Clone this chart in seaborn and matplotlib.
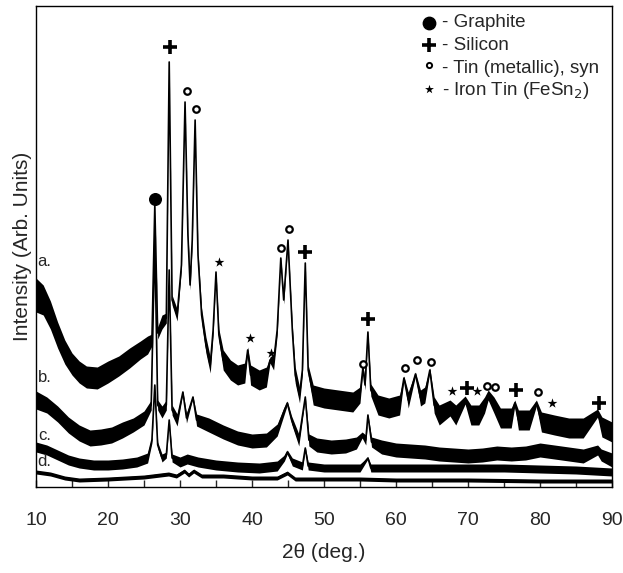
import numpy as np
import pandas as pd
import matplotlib
matplotlib.use("Agg")
import matplotlib.pyplot as plt
import seaborn as sns

sns.set_theme(style="white")
plt.rcParams['font.family'] = ['Liberation Sans', 'DejaVu Sans']

# --- pattern a. (2theta, intensity, noise half-band) ---
a_2t = [10.0, 11.0, 12.0, 13.0, 14.0, 15.0, 16.0, 17.0, 18.5, 20.0, 21.5, 23.0, 24.5, 25.5,
        26.1, 26.5, 26.9, 27.5, 28.1, 28.5, 28.9, 29.6, 30.2, 30.7, 31.1, 31.4, 31.7, 32.1,
        32.5, 33.0, 33.6, 34.2, 34.6, 35.0, 35.4, 36.0, 37.0, 38.0, 39.0, 39.4, 39.8, 41.0,
        42.0, 42.5, 43.0, 43.5, 44.0, 44.4, 45.0, 45.6, 46.0, 46.6, 47.0, 47.4, 47.8, 48.5,
        50.0, 52.0, 54.0, 55.0, 55.4, 55.7, 56.1, 56.5, 57.5, 59.0, 60.5, 61.1, 61.7, 62.7,
        63.4, 64.0, 64.7, 65.3, 66.0, 67.5, 68.3, 69.6, 70.4, 71.5, 72.3, 72.8, 73.6, 74.5,
        76.0, 76.5, 77.0, 78.5, 79.5, 80.2, 82.0, 84.0, 86.0, 88.0, 88.6, 90.0]
a_int = [192, 187, 172, 152, 135, 123, 115, 110, 109, 115, 121, 129, 137, 142,
         147, 282, 154, 165, 169, 425, 187, 172, 222, 385, 252, 202, 247, 367,
         232, 172, 142, 122, 157, 215, 152, 127, 117, 112, 114, 137, 112, 107,
         110, 127, 125, 157, 229, 187, 247, 157, 112, 92, 117, 224, 117, 92,
         89, 87, 85, 92, 119, 102, 155, 97, 82, 79, 82, 109, 87, 113,
         89, 92, 117, 82, 72, 79, 72, 87, 72, 72, 82, 92, 82, 69,
         69, 84, 67, 67, 84, 65, 62, 59, 59, 74, 60, 55]
a_noise = [17, 15, 14, 13, 12, 11, 11, 11, 11, 11, 10, 10, 9, 9,
           6, 1, 6, 7, 5, 1, 5, 6, 4, 1, 4, 5, 4, 1,
           4, 7, 8, 8, 5, 1, 6, 10, 10, 10, 10, 3, 10, 10,
           10, 3, 8, 5, 1, 4, 1, 5, 8, 8, 5, 1, 5, 10,
           10, 10, 10, 8, 3, 5, 1, 6, 10, 10, 10, 2, 8, 2,
           8, 8, 2, 8, 10, 8, 10, 4, 10, 10, 8, 5, 8, 10,
           10, 3, 10, 10, 3, 10, 10, 10, 10, 4, 10, 10]

# --- pattern b. ---
b_2t = [10.0, 11.5, 13.0, 14.5, 16.0, 17.5, 19.0, 20.5, 22.0, 23.5, 25.0, 26.0, 26.5, 26.9,
        27.5, 28.1, 28.5, 28.9, 29.6, 30.4, 30.9, 31.8, 32.3, 34.0, 36.0, 38.0, 40.0, 42.0,
        43.5, 44.4, 44.9, 45.5, 46.5, 47.4, 47.9, 49.0, 51.0, 53.0, 54.5, 55.3, 55.8, 56.1,
        56.6, 58.0, 60.0, 62.0, 64.0, 66.0, 68.0, 70.0, 72.0, 74.0, 76.0, 78.0, 80.0, 82.0,
        84.0, 86.0, 88.0, 88.5, 90.0]
b_int = [87, 82, 73, 62, 54, 49, 50, 52, 57, 62, 69, 82, 247, 82,
         75, 82, 217, 77, 67, 95, 69, 90, 67, 62, 55, 49, 46, 47,
         57, 75, 84, 67, 47, 90, 47, 42, 40, 41, 44, 52, 47, 72,
         45, 40, 37, 36, 35, 33, 32, 31, 32, 34, 33, 34, 37, 35,
         33, 31, 37, 32, 27]
b_noise = [9, 8, 8, 8, 8, 8, 8, 8, 8, 7, 7, 5, 1, 5,
           6, 5, 1, 5, 6, 1, 5, 1, 6, 7, 7, 7, 7, 7,
           6, 4, 2, 4, 6, 1, 6, 7, 7, 7, 6, 3, 5, 1,
           5, 7, 7, 7, 7, 7, 7, 7, 7, 7, 7, 7, 7, 7,
           7, 7, 5, 6, 7]

# --- pattern c. ---
c_2t = [10.0, 11.5, 13.0, 14.5, 16.0, 18.0, 20.0, 22.0, 24.0, 25.5, 26.1, 26.5, 26.9, 27.5,
        28.1, 28.5, 28.9, 30.0, 31.0, 32.5, 35.0, 38.0, 41.0, 43.5, 44.5, 44.9, 45.6, 47.0,
        47.4, 47.8, 50.0, 55.0, 56.1, 56.5, 60.0, 65.0, 70.0, 75.0, 80.0, 85.0, 90.0]
c_int = [40, 37, 32, 27, 24, 22, 22, 23, 25, 29, 47, 102, 42, 29,
         32, 67, 29, 25, 28, 25, 22, 20, 19, 21, 29, 35, 25, 21,
         39, 21, 19, 19, 29, 19, 19, 19, 19, 19, 18, 17, 15]
c_noise = [5, 5, 5, 5, 5, 5, 5, 5, 5, 5, 3, 1, 3, 4,
           3, 1, 4, 5, 5, 5, 5, 5, 5, 5, 3, 2, 4, 4,
           1, 4, 4, 4, 1, 4, 4, 4, 4, 4, 4, 4, 4]

# --- pattern d. ---
d_2t = [10.0, 12.0, 14.0, 16.0, 20.0, 25.0, 28.4, 29.5, 30.6, 31.2, 31.9, 33.0, 36.0, 40.0,
        43.5, 44.9, 46.0, 50.0, 55.0, 60.0, 70.0, 80.0, 90.0]
d_int = [15, 13, 9, 7, 8, 10, 13, 11, 16, 12, 16, 11, 11, 9,
         9, 14, 8, 8, 8, 7, 7, 6, 6]
d_noise = [2] * len(d_2t)

traces = [("a.", a_2t, a_int, a_noise, 225),
          ("b.", b_2t, b_int, b_noise, 109),
          ("c.", c_2t, c_int, c_noise, 52),
          ("d.", d_2t, d_int, d_noise, 25)]

# --- phase markers above the peaks ---
graphite_2t, graphite_int = [26.5], [288]
silicon_2t = [28.6, 47.4, 56.1, 69.9, 76.7, 88.2]
silicon_int = [440, 235, 168, 99, 97, 84]
tin_2t = [31.0, 32.2, 44.0, 45.1, 55.4, 61.25, 62.9, 64.9, 72.6, 73.75, 79.7]
tin_int = [396, 378, 239, 258, 123, 119, 127, 125, 101, 100, 95]
fesn_2t = [35.4, 39.7, 42.6, 67.8, 71.25, 81.7]
fesn_int = [225, 149, 134, 96, 96, 84]

xticks = [10, 20, 30, 40, 50, 60, 70, 80, 90]

fig = plt.figure(figsize=(6.23, 5.73), dpi=100)
ax = fig.add_axes([36 / 623, 1 - 487 / 573, 576 / 623, 481 / 573])

for lab, tt, yy, nn, ylab in traces:
    df = pd.DataFrame({"tt": tt, "I": yy})
    lo = np.array(yy) - np.array(nn)
    hi = np.array(yy) + np.array(nn)
    ax.fill_between(tt, lo, hi, color="black", lw=0)
    sns.lineplot(data=df, x="tt", y="I", ax=ax, color="black", lw=1.2,
                 sort=False, estimator=None)
    ax.text(11.2, ylab, lab, fontsize=12, ha="center", va="center")

ax.scatter(graphite_2t, graphite_int, marker="o", s=70, color="black", zorder=5)
ax.scatter(silicon_2t, silicon_int, marker="+", s=110, color="black", lw=2.6, zorder=5)
ax.scatter(tin_2t, tin_int, marker="o", s=22, facecolor="white", edgecolor="black",
           lw=1.6, zorder=5)
ax.scatter(fesn_2t, fesn_int, marker="*", s=55, color="black", lw=0, zorder=5)

# legend as marker + text rows
leg_rows = [("o", "- Graphite"), ("+", "- Silicon"), ("c", "- Tin (metallic), syn"),
            ("*", "- Iron Tin (FeSn$_2$)")]
for i, (m, txt) in enumerate(leg_rows):
    yy = 0.965 - i * 0.047
    xm = 0.683
    if m == "o":
        ax.scatter([xm], [yy], transform=ax.transAxes, marker="o", s=80, color="black")
    elif m == "+":
        ax.scatter([xm], [yy], transform=ax.transAxes, marker="+", s=110, color="black", lw=2.6)
    elif m == "c":
        ax.scatter([xm], [yy + 0.006], transform=ax.transAxes, marker="o", s=14,
                   facecolor="white", edgecolor="black", lw=1.4)
    else:
        ax.scatter([xm], [yy + 0.004], transform=ax.transAxes, marker="*", s=45,
                   color="black", lw=0)
    ax.text(xm + 0.022, yy, txt, transform=ax.transAxes, fontsize=13.5, va="center")

ax.set_xlim(10, 90)
ax.set_ylim(0, 481)
ax.set_xticks(xticks)
ax.set_xticks(range(15, 90, 10), minor=True)
ax.set_yticks([])
ax.tick_params(axis="x", which="both", direction="in", length=5, width=1,
               labelsize=14, pad=18, bottom=True)
for s in ax.spines.values():
    s.set_color("black")
    s.set_linewidth(1)
ax.set_xlabel("2θ (deg.)", fontsize=15, labelpad=10)
ax.set_ylabel("Intensity (Arb. Units)", fontsize=15, labelpad=3)

fig.savefig("out.png", dpi=100)
